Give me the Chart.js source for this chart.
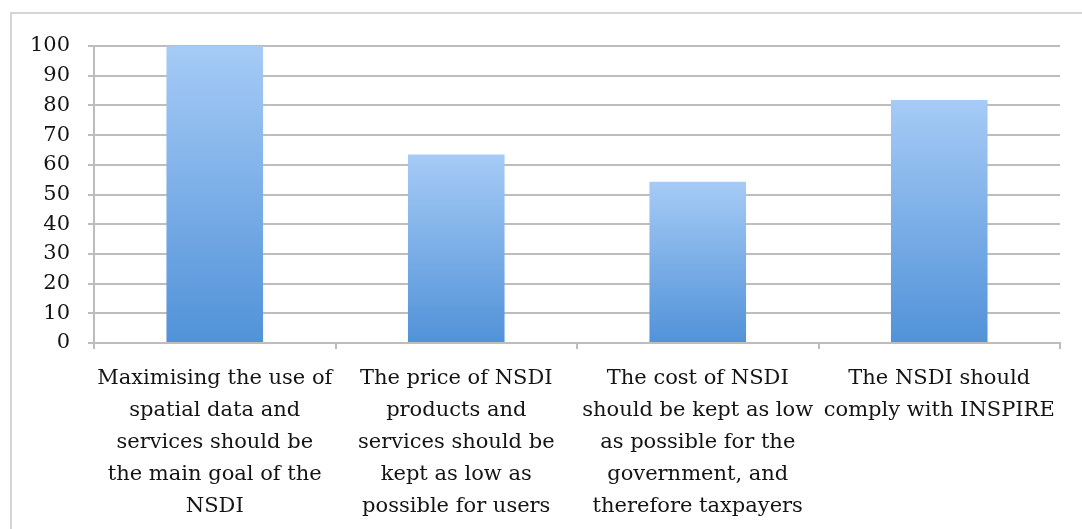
<!DOCTYPE html>
<html>
<head>
<meta charset="utf-8">
<script src="https://cdn.jsdelivr.net/npm/chart.js@4"></script>
<style>
  html, body { margin: 0; padding: 0; background: #ffffff; overflow: hidden; }
  body { width: 1082px; height: 529px; position: relative; }
  #frame {
    position: absolute; left: 10px; top: 12px; width: 2000px; height: 1000px;
    border-left: 2px solid #d4d4d4; border-top: 2px solid #d4d4d4;
  }
  #wrap { position: absolute; left: 0; top: 0; width: 1082px; height: 529px; }
</style>
</head>
<body>
<div id="frame"></div>
<div id="wrap"><canvas id="chart"></canvas></div>
<script>
// ------------------------------------------------------------
// Data
// ------------------------------------------------------------
const categories = [
  ['Maximising the use of', 'spatial data and', 'services should be', 'the main goal of the', 'NSDI'],
  ['The price of NSDI', 'products and', 'services should be', 'kept as low as', 'possible for users'],
  ['The cost of NSDI', 'should be kept as low', 'as possible for the', 'government, and', 'therefore taxpayers'],
  ['The NSDI should', 'comply with INSPIRE']
];
const values = [100, 63.5, 54.3, 81.8];
const yTicks = [0, 10, 20, 30, 40, 50, 60, 70, 80, 90, 100];

const GRID  = '#bdbdbd';
const TEXT  = '#141414';
const SERIF = '"DejaVu Serif", serif';

// per-bar vertical gradient, light on top, darker at the base
function barFill(ctx) {
  const chart = ctx.chart;
  const y = chart.scales.y;
  if (!chart.chartArea || !y || ctx.raw === undefined) return '#7fb0e8';
  const top = y.getPixelForValue(ctx.raw);
  const bottom = y.getPixelForValue(0);
  const g = chart.ctx.createLinearGradient(0, top, 0, bottom);
  g.addColorStop(0, '#a6cbf6');
  g.addColorStop(1, '#5192d8');
  return g;
}

new Chart(document.getElementById('chart'), {
  type: 'bar',
  data: {
    labels: categories,
    datasets: [{
      data: values,
      backgroundColor: barFill,
      borderWidth: 0,
      categoryPercentage: 1,
      barPercentage: 0.4
    }]
  },
  options: {
    responsive: true,
    maintainAspectRatio: false,
    animation: false,
    layout: { padding: { top: 46, right: 22, left: 0, bottom: 0 } },
    plugins: { legend: { display: false }, tooltip: { enabled: false } },
    scales: {
      x: {
        grid: {
          offset: true,
          drawOnChartArea: false,
          drawTicks: true,
          tickLength: 6,
          color: GRID,
          lineWidth: 2
        },
        border: { color: GRID, width: 2 },
        ticks: {
          color: TEXT,
          font: { family: SERIF, size: 21, lineHeight: 1.52 },
          padding: 14,
          maxRotation: 0,
          autoSkip: false
        },
        afterFit: s => { s.height = 529 - 343; }
      },
      y: {
        min: 0,
        max: 100,
        afterBuildTicks: s => { s.ticks = yTicks.map(v => ({ value: v })); },
        grid: { color: GRID, lineWidth: 2, tickLength: 6 },
        border: { color: GRID, width: 2 },
        ticks: {
          color: TEXT,
          font: { family: SERIF, size: 21 },
          padding: 18
        },
        afterFit: s => { s.width = 94; }
      }
    }
  }
});
</script>
</body>
</html>
